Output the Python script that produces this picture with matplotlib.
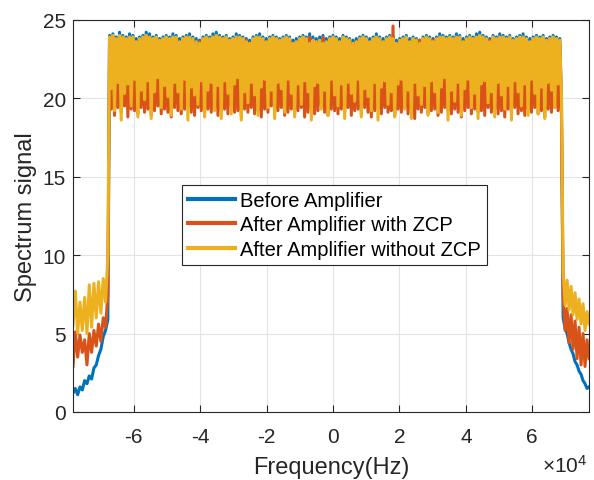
import numpy as np
import matplotlib
matplotlib.use('Agg')
import matplotlib.pyplot as plt

# passband: alternating upper / lower excursions of each spectrum
blue_hi = [24.0, 24.1, 23.9, 24.2, 24.0, 23.9, 24.1, 24.0, 23.8, 23.9, 24.0, 24.2, 24.1, 23.9, 24.0, 23.8, 23.9,
           24.0, 23.9, 24.1, 24.0, 23.8, 23.9, 24.0, 24.1, 23.9, 23.8, 23.7, 23.9, 24.0, 23.9, 24.1, 24.2, 24.0,
           23.9, 24.0, 23.8, 23.9, 24.1, 24.0, 23.9, 23.8, 23.7, 23.9, 24.0, 24.1, 23.9, 23.8, 23.9, 24.0, 23.9,
           23.8, 23.9, 24.0, 23.9, 23.7, 23.8, 23.9, 24.0, 23.9, 24.1, 23.9, 23.8, 23.9, 24.0, 23.8, 23.9, 24.0,
           23.9, 23.8, 24.0, 23.9, 23.8, 23.7, 23.8, 23.9, 24.0, 23.9, 23.8, 23.9, 24.1, 23.9, 23.8, 23.9, 24.0,
           23.9, 23.7, 23.8, 23.9, 24.0, 23.8, 23.9, 23.8, 23.7, 23.9, 24.0, 23.9, 23.8, 23.9, 24.1, 24.0, 23.9,
           24.0, 23.9, 24.1, 24.0, 23.8, 23.9, 24.0, 23.9, 24.1, 24.2, 24.0, 23.9, 23.8, 24.0, 23.9, 24.1, 24.0,
           23.9, 24.0, 23.8, 23.9, 24.0, 24.1, 23.9, 23.8, 23.9, 24.0, 23.9, 24.0, 23.8, 23.9, 24.0, 23.9, 23.8]
blue_lo = [19.9, 20.1, 19.7, 20.0, 19.8, 20.2, 19.9, 19.7, 20.0, 19.8, 20.1, 19.9, 19.6, 20.0, 19.8, 20.2, 19.9,
           19.7, 20.1, 19.8, 19.9, 20.0, 19.7, 19.9, 20.1, 19.8, 19.6, 20.0, 19.9, 20.2, 19.8, 19.9, 20.0, 19.7,
           19.9, 20.1, 19.8, 20.0, 19.7, 19.9, 20.0, 19.8, 19.6, 19.9, 20.1, 19.8, 19.9, 20.0, 19.7, 19.9, 20.1,
           19.8, 19.9, 20.0, 19.7, 19.9, 20.1, 19.8, 19.9, 20.0, 19.7, 19.9, 20.0, 19.8, 19.6, 19.9, 20.1, 19.8,
           19.9, 20.0, 19.7, 19.9, 20.1, 19.8, 20.0, 19.7, 19.9, 20.0, 19.8, 19.9, 20.1, 19.7, 19.9, 20.0, 19.8,
           20.0, 19.8, 19.9, 20.1, 19.7, 19.9, 20.0, 19.8, 19.9, 20.2, 19.8, 19.9, 20.0, 19.7, 19.9, 20.1, 19.8,
           19.9, 20.0, 19.7, 19.9, 20.1, 19.8, 19.9, 20.0, 19.7, 19.9, 20.1, 19.8, 20.0, 19.9, 19.7, 19.9, 20.0,
           19.8, 19.9, 20.1, 19.7, 19.9, 20.0, 19.8, 19.9, 20.1, 19.8, 19.9, 20.0, 19.7, 19.9, 20.0, 19.8, 19.9]
orange_hi = [23.6, 23.5, 23.7, 23.4, 23.6, 23.5, 23.7, 23.4, 23.6, 23.5, 23.3, 23.6, 23.5, 23.7, 23.4, 23.6, 23.5,
             23.3, 23.6, 23.4, 23.7, 23.5, 23.4, 23.6, 23.8, 23.5, 23.4, 23.6, 23.5, 23.7, 23.4, 23.6, 23.5, 23.4,
             23.7, 23.5, 23.6, 23.4, 23.5, 23.6, 23.4, 23.7, 23.5, 23.6, 23.4, 23.5, 23.7, 23.6, 23.4, 23.5, 23.6,
             23.4, 23.6, 23.5, 23.7, 23.4, 23.6, 23.5, 23.6, 23.4, 23.9, 23.6, 23.5, 23.4, 23.9, 23.5, 23.6, 23.5,
             23.5, 23.4, 23.6, 23.5, 23.7, 23.4, 23.6, 23.5, 23.4, 23.6, 23.5, 23.7, 23.4, 23.6, 23.5, 23.4, 23.6,
             24.6, 23.5, 23.4, 23.6, 23.5, 23.3, 23.6, 23.5, 23.7, 23.4, 23.6, 23.5, 23.7, 23.4, 23.6, 23.5, 23.3,
             23.6, 23.5, 23.4, 23.6, 23.5, 23.7, 23.4, 23.6, 23.5, 23.4, 23.6, 23.5, 23.7, 23.4, 23.6, 23.5, 23.6,
             23.4, 23.6, 23.5, 23.7, 23.4, 23.6, 23.5, 23.3, 23.6, 23.5, 23.4, 23.6, 23.5, 23.7, 23.4, 23.6, 23.5]
orange_lo = [19.3, 18.9, 19.4, 19.1, 19.5, 18.8, 19.3, 19.2, 19.0, 19.4, 19.1, 19.3, 18.9, 19.2, 19.5, 19.0, 19.3,
             19.1, 18.8, 19.4, 19.2, 19.0, 19.3, 19.5, 19.1, 18.9, 19.4, 19.2, 19.0, 19.3, 19.1, 19.4, 18.9, 19.2,
             19.3, 19.0, 19.5, 19.1, 19.2, 18.9, 19.3, 19.1, 19.4, 19.0, 19.2, 18.8, 19.3, 19.1, 19.5, 19.0, 19.2,
             19.4, 18.9, 19.1, 19.3, 19.0, 19.2, 19.4, 18.8, 19.1, 19.3, 19.0, 19.2, 19.5, 19.1, 18.9, 19.3, 19.2,
             19.0, 19.3, 19.1, 19.4, 18.9, 19.2, 19.3, 19.0, 19.4, 19.1, 18.8, 19.2, 19.3, 19.0, 19.4, 19.1, 19.2,
             18.9, 19.3, 19.1, 19.4, 19.0, 19.2, 18.7, 19.3, 19.1, 19.4, 19.0, 19.2, 19.3, 18.9, 19.1, 19.4, 19.2,
             19.0, 19.3, 19.1, 18.8, 19.2, 19.4, 19.0, 19.3, 19.1, 19.2, 18.9, 19.4, 19.1, 19.3, 19.0, 19.2, 18.8,
             19.3, 19.1, 19.4, 19.0, 19.2, 18.9, 19.3, 19.1, 19.4, 19.0, 19.2, 18.8, 19.3, 19.1, 19.4, 19.2, 19.0]
yellow_hi = [23.9, 24.0, 23.8, 24.0, 23.9, 23.8, 23.9, 23.9, 23.6, 23.8, 23.9, 24.0, 23.9, 23.8, 23.9, 23.7, 23.8,
             23.9, 23.8, 23.9, 23.9, 23.6, 23.8, 23.9, 23.9, 23.8, 23.6, 23.5, 23.8, 23.9, 23.8, 23.9, 24.0, 23.9,
             23.8, 23.9, 23.7, 23.8, 23.9, 23.9, 23.8, 23.6, 23.5, 23.8, 23.9, 23.9, 23.8, 23.6, 23.8, 23.9, 23.8,
             23.7, 23.8, 23.9, 23.8, 23.5, 23.6, 23.8, 23.9, 23.8, 23.5, 23.7, 23.6, 23.7, 23.5, 23.6, 23.8, 23.9,
             23.8, 23.6, 23.9, 23.8, 23.7, 23.5, 23.6, 23.8, 23.9, 23.8, 23.6, 23.8, 23.9, 23.8, 23.6, 23.8, 23.9,
             23.8, 23.5, 23.7, 23.8, 23.9, 23.6, 23.8, 23.7, 23.5, 23.8, 23.9, 23.8, 23.6, 23.8, 23.9, 23.9, 23.8,
             23.9, 23.8, 23.9, 23.9, 23.6, 23.8, 23.9, 23.8, 23.9, 24.0, 23.9, 23.8, 23.6, 23.9, 23.8, 23.9, 23.9,
             23.8, 23.9, 23.7, 23.8, 23.9, 23.9, 23.8, 23.6, 23.8, 23.9, 23.8, 23.9, 23.7, 23.8, 23.9, 23.8, 23.7]
yellow_lo = [20.6, 19.2, 21.0, 18.6, 20.3, 20.9, 19.5, 21.2, 18.8, 20.5, 19.9, 21.1, 18.7, 20.4, 21.3, 19.4, 20.8,
             20.1, 18.9, 21.0, 20.4, 19.3, 21.2, 18.6, 20.7, 20.2, 19.6, 21.1, 18.8, 20.5, 21.0, 19.2, 20.8, 18.7,
             21.1, 20.3, 19.0, 20.9, 21.3, 18.6, 20.4, 19.7, 21.0, 20.2, 18.9, 20.7, 21.2, 19.4, 20.5, 18.7, 21.0,
             20.6, 19.1, 21.2, 20.3, 18.8, 20.9, 19.6, 21.1, 20.4, 18.6, 20.8, 21.0, 19.3, 20.5, 18.9, 21.2, 20.2,
             19.5, 20.9, 18.7, 21.0, 20.3, 19.8, 21.2, 18.8, 20.6, 20.1, 19.2, 21.0, 18.6, 20.7, 21.1, 19.6, 20.4,
             18.8, 20.9, 21.2, 19.3, 20.5, 18.7, 21.0, 20.2, 19.6, 20.8, 18.9, 21.1, 20.4, 19.1, 20.7, 21.3, 18.6,
             20.5, 19.8, 21.0, 18.9, 20.6, 21.2, 19.4, 20.3, 18.7, 20.9, 21.1, 19.7, 20.4, 18.8, 21.0, 20.2, 19.3,
             20.8, 18.6, 21.1, 20.4, 19.5, 20.9, 18.9, 21.2, 20.3, 19.0, 20.7, 18.7, 21.0, 20.5, 19.4, 20.9, 20.2]

# out-of-band skirts (below and above the passband)
blue_left = [1.2, 1.5, 1.1, 1.6, 1.4, 2.0, 1.8, 2.3, 2.1, 2.8, 3.0, 3.6, 4.0, 4.8, 5.2, 5.9]
orange_left = [2.9, 5.1, 3.5, 4.9, 3.8, 4.6, 3.0, 5.0, 3.8, 5.2, 4.2, 5.6, 4.5, 6.0, 5.4, 7.5]
yellow_left = [5.5, 7.7, 5.0, 7.0, 5.2, 7.3, 5.0, 8.1, 5.4, 8.2, 6.0, 8.3, 6.3, 8.5, 7.0, 10.0]
blue_right = [6.0, 5.3, 5.0, 4.4, 4.0, 3.7, 3.2, 3.0, 2.6, 2.4, 2.0, 1.8, 1.5, 1.6]
orange_right = [7.5, 5.2, 6.6, 4.4, 6.2, 4.0, 5.8, 3.4, 5.4, 3.0, 5.0, 2.9, 4.6, 3.4]
yellow_right = [9.0, 6.8, 8.4, 6.5, 8.0, 6.2, 7.6, 5.9, 7.2, 5.6, 6.9, 5.2, 6.4, 5.6]

f_min, f_max = -7.83e4, 7.71e4
band_lo, band_hi = -6.73e4, 6.88e4

labels = ['Before Amplifier', 'After Amplifier with ZCP', 'After Amplifier without ZCP']
colors = ['#0072BD', '#D95319', '#EDB120']


def build(hi, lo, left, right):
    band = np.empty(2 * len(hi))
    band[0::2] = hi
    band[1::2] = lo
    f_left = np.linspace(f_min, -6.78e4, len(left))
    f_band = np.linspace(band_lo, band_hi, len(band))
    f_right = np.linspace(6.93e4, f_max, len(right))
    f = np.concatenate([f_left, f_band, f_right])
    s = np.concatenate([left, band, right])
    return f, s


series = [
    build(blue_hi, blue_lo, blue_left, blue_right),
    build(orange_hi, orange_lo, orange_left, orange_right),
    build(yellow_hi, yellow_lo, yellow_left, yellow_right),
]

plt.rcParams['font.family'] = ['Liberation Sans', 'DejaVu Sans']
plt.rcParams['mathtext.default'] = 'regular'

fig = plt.figure(figsize=(5.94, 4.81), dpi=100)
ax = fig.add_axes([0.1229, 0.1414, 0.8687, 0.8156])

for (f, s), c, lab in zip(series, colors, labels):
    ax.plot(f, s, color=c, lw=2.2, label=lab, solid_joinstyle='round')

ax.set_xlim(f_min, f_max)
ax.set_ylim(0, 25)
xt = np.arange(-6, 7, 2)
ax.set_xticks(xt * 1e4)
ax.set_xticklabels([str(v) for v in xt])
ax.set_yticks(np.arange(0, 26, 5))

axcol = '#262626'
for sp in ax.spines.values():
    sp.set_color(axcol)
    sp.set_linewidth(0.8)
ax.tick_params(direction='in', top=True, right=True, length=5, width=0.8,
               colors=axcol, labelsize=15)
ax.tick_params(axis='x', pad=11)
ax.tick_params(axis='y', pad=5)
ax.grid(True, color='#e3e3e3', lw=0.8)
ax.set_axisbelow(True)

ax.set_xlabel('Frequency(Hz)', fontsize=17, color=axcol, labelpad=7)
ax.set_ylabel('Spectrum signal', fontsize=17, color=axcol, labelpad=4)
ax.text(0.996, -0.153, r'$\times10^{4}$', transform=ax.transAxes, ha='right',
        va='baseline', fontsize=15, color=axcol)

leg = ax.legend(loc='upper left', bbox_to_anchor=(0.211, 0.579), fontsize=14.5,
                fancybox=False, framealpha=1, edgecolor=axcol, handlelength=2.35,
                borderpad=0.3, labelspacing=0.27, handletextpad=0.25,
                borderaxespad=0)
leg.get_frame().set_linewidth(0.8)
for line in leg.get_lines():
    line.set_linewidth(3)

fig.savefig('out.png', dpi=100)
